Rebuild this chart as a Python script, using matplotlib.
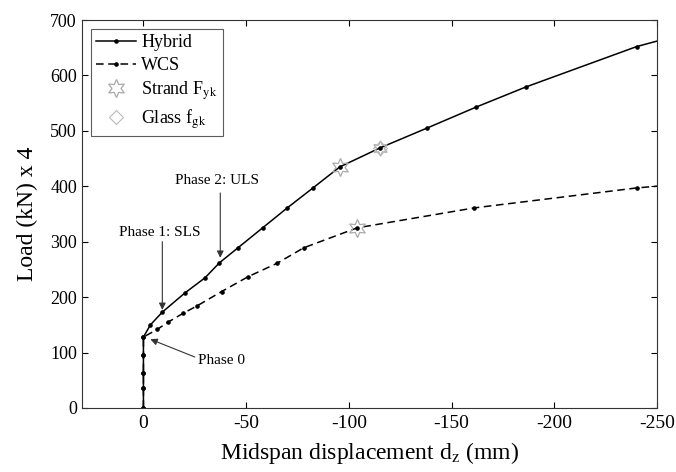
import matplotlib
matplotlib.use("Agg")
import matplotlib.pyplot as plt

plt.rcParams['font.family'] = ['Liberation Serif', 'DejaVu Serif']
plt.rcParams['mathtext.fontset'] = 'stix'

# Hybrid beam: midspan displacement (mm) vs load (kN x 4)
hybrid_d = [0, 0, 0, 0, 0, -3.4, -9.2, -20, -30, -37, -46, -58, -70, -82.5,
            -95.6, -115, -138, -162, -186, -240, -262]
hybrid_f = [0, 36, 63, 96, 128, 150, 173, 207, 235, 262, 289, 325, 361, 397,
            435, 469, 505, 543, 579, 652, 674]

# WCS beam
wcs_d = [0, 0, 0, 0, 0, -6.8, -12, -19.4, -26, -38, -51, -65, -78, -104,
         -161, -240, -262]
wcs_f = [0, 36, 63, 96, 128, 142, 155, 171, 184, 210, 237, 261, 289, 325,
         361, 397, 404]

# strand yield / glass strength points
strand_d = [-95.6, -104]
strand_f = [435, 325]
glass_d = [-115]
glass_f = [469]

fig = plt.figure(figsize=(6.76, 4.72), dpi=100)
ax = fig.add_axes([0.121, 0.1356, 0.851, 0.822])

ax.plot(hybrid_d, hybrid_f, '-', color='black', lw=1.1, marker='o', ms=2.3,
        label='Hybrid')
ax.plot(wcs_d, wcs_f, '--', color='black', lw=1.1, marker='o', ms=2.3,
        dashes=(5, 3), label='WCS')
ax.plot(strand_d, strand_f, linestyle='none', marker=(6, 1, 0), ms=13,
        mfc='none', mec='#aaaaaa', mew=0.9, label='Strand F$_{\\mathrm{yk}}$')
ax.plot(glass_d, glass_f, linestyle='none', marker=(6, 1, 0), ms=11,
        mfc='none', mec='#aaaaaa', mew=0.9, label='_')
ax.plot(glass_d, glass_f, linestyle='none', marker='D', ms=7,
        mfc='none', mec='#bbbbbb', mew=0.8, label='Glass f$_{\\mathrm{gk}}$')

ax.set_xlim(30, -250)
ax.set_ylim(0, 700)
ax.set_xticks([0, -50, -100, -150, -200, -250])
ax.set_xticklabels(['0', '-50', '-100', '-150', '-200', '-250'])
ax.set_yticks(range(0, 701, 100))
ax.tick_params(direction='in', top=True, right=True, labelsize=13, length=4)
ax.tick_params(axis='x', labelsize=14, pad=5)
for s in ax.spines.values():
    s.set_linewidth(0.8)
    s.set_color('#333333')

ax.set_xlabel('Midspan displacement d$_{\\mathrm{z}}$ (mm)', fontsize=17, labelpad=6)
ax.set_ylabel('Load (kN) x 4', fontsize=17, labelpad=9)

arrow = dict(arrowstyle='-|>', color='#333333', lw=0.8, mutation_scale=10,
             shrinkA=0, shrinkB=0)
ax.annotate('', xy=(-37.4, 271), xytext=(-37.4, 388), arrowprops=arrow)
ax.text(-36, 411, 'Phase 2: ULS', ha='center', va='center', fontsize=11)
ax.annotate('', xy=(-9.2, 177), xytext=(-9.2, 300), arrowprops=arrow)
ax.text(-7.8, 317, 'Phase 1: SLS', ha='center', va='center', fontsize=11)
ax.annotate('', xy=(-3.4, 124), xytext=(-25, 92), arrowprops=arrow)
ax.text(-38, 85, 'Phase 0', ha='center', va='center', fontsize=11)

leg = ax.legend(loc='upper left', fontsize=13, frameon=True, fancybox=False,
                edgecolor='#333333', handlelength=2.2, handletextpad=0.3,
                borderpad=0.3, labelspacing=0.3, borderaxespad=0.5)
leg.get_frame().set_linewidth(0.8)

fig.savefig('out.png', dpi=100)
